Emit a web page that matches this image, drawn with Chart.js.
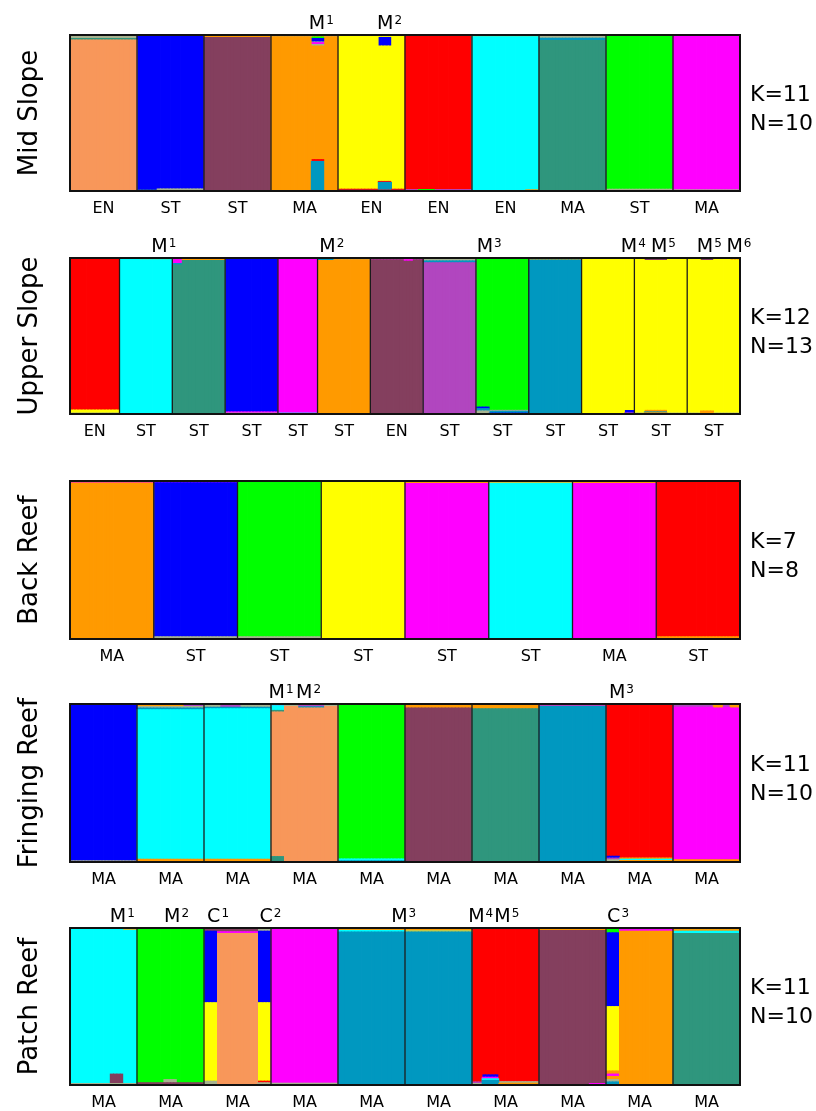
<!DOCTYPE html>
<html>
<head>
<meta charset="utf-8">
<script src="https://cdn.jsdelivr.net/npm/chart.js@4.4.0/dist/chart.umd.min.js"></script>
<style>
  body { margin: 0; background: #fff; }
  #wrap { position: relative; width: 816px; height: 1111px; }
  #wrap canvas { position: absolute; left: 0; }
</style>
</head>
<body>
<div id="wrap"></div>
<script>
// cluster colours
const COLORS = {
  sal: "#F8975A", blu: "#0000FE", mar: "#843F5E", ora: "#FF9A00",
  yel: "#FFFF00", red: "#FF0000", cya: "#00FFFF", tgr: "#2F967D",
  grn: "#00FF00", mag: "#FF00FF", tbl: "#0098C0", pur: "#B146BF",
  kha: "#A7B38F", olv: "#C3C94A",
};

// panel meta
const panelTitles = ["Mid Slope", "Upper Slope", "Back Reef", "Fringing Reef", "Patch Reef"];
const kValues = [11, 12, 7, 11, 11];
const nValues = [10, 13, 8, 10, 10];

// ---- Mid Slope ----
const midSlopeLabels = ["EN", "ST", "ST", "MA", "EN", "EN", "EN", "MA", "ST", "MA"];
const midSlopeWidths = [20, 20, 20, 20, 20, 20, 20, 20, 20, 20];
// memberships per colony, bottom -> top
const midSlopeBars = [
  [["sal", 0.968], ["tgr", 0.01], ["kha", 0.022]],
  [["tgr", 0.006], ["blu", 0.994]],
  [["mar", 0.985], ["ora", 0.015]],
  [["ora", 0.99], ["kha", 0.01]],
  [["mar", 0.006], ["red", 0.006], ["yel", 0.988]],
  [["pur", 0.01], ["red", 0.99]],
  [["cya", 0.99], ["olv", 0.01]],
  [["tgr", 0.965], ["tbl", 0.015], ["kha", 0.02]],
  [["kha", 0.012], ["grn", 0.988]],
  [["kha", 0.008], ["mag", 0.992]],
];
// [colony, firstCol, lastCol, memberships]
const midSlopePatches = [
  [1, 6, 19, [["kha", 0.014], ["blu", 0.986]]],
  [3, 12, 15, [["tbl", 0.19], ["red", 0.012], ["ora", 0.728], ["kha", 0.01], ["mag", 0.012], ["kha", 0.004], ["blu", 0.022], ["grn", 0.01], ["ora", 0.012]]],
  [4, 12, 15, [["red", 0.006], ["tbl", 0.05], ["red", 0.006], ["yel", 0.868], ["blu", 0.055], ["yel", 0.015]]],
  [5, 4, 8, [["grn", 0.01], ["red", 0.99]]],
  [6, 16, 19, [["ora", 0.008], ["cya", 0.982], ["olv", 0.01]]],
];
// [colony, position within colony, letter, superscript]
const midSlopeMarks = [[3, 0.75, "M", "1"], [4, 0.77, "M", "2"]];

// ---- Upper Slope ----
const upperSlopeLabels = ["EN", "ST", "ST", "ST", "ST", "ST", "EN", "ST", "ST", "ST", "ST", "ST", "ST"];
const upperSlopeWidths = [15, 16, 16, 16, 12, 16, 16, 16, 16, 16, 16, 16, 16];
const upperSlopeBars = [
  [["olv", 0.008], ["yel", 0.018], ["red", 0.974]],
  [["cya", 1]],
  [["tgr", 0.985], ["ora", 0.015]],
  [["kha", 0.006], ["mag", 0.008], ["blu", 0.986]],
  [["cya", 0.006], ["mag", 0.994]],
  [["ora", 0.99], ["kha", 0.01]],
  [["mar", 0.99], ["mag", 0.01]],
  [["pur", 0.97], ["tbl", 0.012], ["kha", 0.018]],
  [["blu", 0.006], ["tbl", 0.012], ["kha", 0.006], ["grn", 0.976]],
  [["tbl", 0.988], ["ora", 0.012]],
  [["yel", 0.995], ["mar", 0.005]],
  [["kha", 0.006], ["yel", 0.994]],
  [["kha", 0.006], ["yel", 0.994]],
];
const upperSlopePatches = [
  [1, 6, 15, [["cya", 0.99], ["olv", 0.01]]],
  [2, 0, 2, [["tgr", 0.955], ["tbl", 0.01], ["mag", 0.025], ["pur", 0.01]]],
  [5, 0, 4, [["ora", 0.985], ["tbl", 0.015]]],
  [6, 10, 12, [["mar", 0.98], ["mag", 0.01], ["sal", 0.01]]],
  [8, 0, 3, [["kha", 0.02], ["tbl", 0.015], ["blu", 0.01], ["grn", 0.955]]],
  [10, 13, 15, [["pur", 0.008], ["blu", 0.015], ["yel", 0.977]]],
  [11, 3, 9, [["ora", 0.008], ["tbl", 0.006], ["ora", 0.01], ["yel", 0.961], ["mar", 0.015]]],
  [12, 4, 7, [["ora", 0.02], ["yel", 0.965], ["mar", 0.015]]],
  [12, 13, 15, [["kha", 0.006], ["yel", 0.984], ["red", 0.01]]],
];
const upperSlopeMarks = [
  [1, 0.84, "M", "1"], [5, 0.27, "M", "2"], [8, 0.25, "M", "3"],
  [10, 0.98, "M", "4"], [11, 0.55, "M", "5"], [12, 0.42, "M", "5"], [12, 0.98, "M", "6"],
];

// ---- Back Reef ----
const backReefLabels = ["MA", "ST", "ST", "ST", "ST", "ST", "MA", "ST"];
const backReefWidths = [25, 25, 25, 25, 25, 25, 25, 25];
const backReefBars = [
  [["ora", 0.988], ["mag", 0.012]],
  [["kha", 0.015], ["blu", 0.975], ["mag", 0.01]],
  [["kha", 0.015], ["grn", 0.985]],
  [["yel", 1]],
  [["mag", 0.985], ["ora", 0.015]],
  [["cya", 0.985], ["olv", 0.015]],
  [["mag", 0.985], ["ora", 0.015]],
  [["ora", 0.015], ["red", 0.985]],
];
const backReefPatches = [];
const backReefMarks = [];

// ---- Fringing Reef ----
const fringingLabels = ["MA", "MA", "MA", "MA", "MA", "MA", "MA", "MA", "MA", "MA"];
const fringingWidths = [20, 20, 20, 20, 20, 20, 20, 20, 20, 20];
const fringingBars = [
  [["kha", 0.008], ["blu", 0.984], ["pur", 0.008]],
  [["ora", 0.018], ["cya", 0.947], ["tbl", 0.01], ["kha", 0.01], ["ora", 0.015]],
  [["ora", 0.018], ["cya", 0.952], ["tbl", 0.01], ["kha", 0.012], ["pur", 0.008]],
  [["sal", 0.985], ["kha", 0.015]],
  [["tbl", 0.008], ["cya", 0.012], ["grn", 0.98]],
  [["mar", 0.975], ["ora", 0.025]],
  [["tgr", 0.97], ["ora", 0.03]],
  [["tbl", 0.985], ["pur", 0.015]],
  [["ora", 0.01], ["cya", 0.008], ["ora", 0.008], ["red", 0.974]],
  [["ora", 0.015], ["mag", 0.965], ["pur", 0.02]],
];
const fringingPatches = [
  [1, 14, 19, [["ora", 0.018], ["cya", 0.947], ["tbl", 0.01], ["kha", 0.01], ["pur", 0.015]]],
  [2, 5, 10, [["ora", 0.018], ["cya", 0.952], ["tbl", 0.01], ["pur", 0.02]]],
  [3, 0, 3, [["tgr", 0.035], ["sal", 0.915], ["tgr", 0.01], ["cya", 0.03], ["mag", 0.01]]],
  [3, 8, 15, [["sal", 0.975], ["tbl", 0.008], ["pur", 0.017]]],
  [8, 0, 3, [["kha", 0.015], ["pur", 0.01], ["blu", 0.012], ["red", 0.963]]],
  [9, 12, 14, [["ora", 0.015], ["mag", 0.96], ["ora", 0.025]]],
  [9, 17, 19, [["ora", 0.015], ["mag", 0.96], ["ora", 0.025]]],
];
const fringingMarks = [[3, 0.15, "M", "1"], [3, 0.56, "M", "2"], [8, 0.23, "M", "3"]];

// ---- Patch Reef ----
const patchReefLabels = ["MA", "MA", "MA", "MA", "MA", "MA", "MA", "MA", "MA", "MA"];
const patchReefWidths = [20, 20, 20, 20, 20, 20, 20, 20, 20, 20];
const patchReefBars = [
  [["kha", 0.01], ["cya", 0.99]],
  [["mar", 0.015], ["grn", 0.985]],
  [["sal", 0.965], ["mag", 0.012], ["mar", 0.023]],
  [["kha", 0.012], ["mag", 0.988]],
  [["tbl", 0.975], ["cya", 0.01], ["ora", 0.015]],
  [["tbl", 0.975], ["olv", 0.01], ["ora", 0.015]],
  [["ora", 0.012], ["kha", 0.01], ["red", 0.978]],
  [["mar", 0.985], ["ora", 0.015]],
  [["ora", 0.98], ["mag", 0.01], ["pur", 0.01]],
  [["tgr", 0.965], ["cya", 0.015], ["ora", 0.01], ["olv", 0.01]],
];
const patchReefPatches = [
  [0, 0, 11, [["kha", 0.01], ["cya", 0.985], ["pur", 0.005]]],
  [0, 12, 15, [["kha", 0.01], ["mar", 0.06], ["cya", 0.93]]],
  [0, 16, 19, [["kha", 0.01], ["cya", 0.975], ["olv", 0.015]]],
  [1, 8, 11, [["mar", 0.015], ["kha", 0.02], ["grn", 0.965]]],
  [2, 0, 3, [["kha", 0.025], ["yel", 0.5], ["blu", 0.455], ["mar", 0.02]]],
  [2, 16, 19, [["kha", 0.015], ["red", 0.01], ["yel", 0.5], ["blu", 0.455], ["kha", 0.02]]],
  [6, 0, 2, [["kha", 0.01], ["pur", 0.01], ["red", 0.98]]],
  [6, 3, 7, [["tbl", 0.03], ["cya", 0.01], ["mag", 0.01], ["blu", 0.015], ["red", 0.935]]],
  [7, 15, 19, [["mag", 0.01], ["mar", 0.975], ["ora", 0.015]]],
  [8, 0, 3, [["tbl", 0.02], ["kha", 0.015], ["ora", 0.02], ["mag", 0.015], ["ora", 0.02], ["yel", 0.41], ["blu", 0.47], ["grn", 0.022], ["kha", 0.008]]],
];
const patchReefMarks = [
  [0, 0.78, "M", "1"], [1, 0.59, "M", "2"], [2, 0.21, "C", "1"], [2, 0.99, "C", "2"],
  [4, 0.98, "M", "3"], [6, 0.13, "M", "4"], [6, 0.52, "M", "5"], [8, 0.18, "C", "3"],
];

const panels = [
  { labels: midSlopeLabels, widths: midSlopeWidths, bars: midSlopeBars, patches: midSlopePatches, marks: midSlopeMarks },
  { labels: upperSlopeLabels, widths: upperSlopeWidths, bars: upperSlopeBars, patches: upperSlopePatches, marks: upperSlopeMarks },
  { labels: backReefLabels, widths: backReefWidths, bars: backReefBars, patches: backReefPatches, marks: backReefMarks },
  { labels: fringingLabels, widths: fringingWidths, bars: fringingBars, patches: fringingPatches, marks: fringingMarks },
  { labels: patchReefLabels, widths: patchReefWidths, bars: patchReefBars, patches: patchReefPatches, marks: patchReefMarks },
];

// layout (box top / height of each panel, px)
const boxTops = [35, 258, 481, 704, 928];
const boxHeights = [156, 156, 158, 158, 157];
const FONT = '"DejaVu Sans", Verdana, sans-serif';

function makeDecor(p, idx, starts) {
  return {
    id: "decor" + idx,
    afterDatasetsDraw(chart) {
      const { ctx, chartArea: a, scales: { x } } = chart;
      ctx.save();
      // colony separators
      ctx.strokeStyle = "#1c1c1c";
      ctx.lineWidth = 1.3;
      starts.slice(1).forEach((s) => {
        const px = x.getPixelForValue(s - 0.5);
        ctx.beginPath();
        ctx.moveTo(px, a.top);
        ctx.lineTo(px, a.bottom);
        ctx.stroke();
      });
      ctx.lineWidth = 2;
      ctx.strokeStyle = "#111";
      ctx.strokeRect(a.left, a.top, a.right - a.left, a.bottom - a.top);

      ctx.fillStyle = "#000";
      // colony labels under the bars
      ctx.font = "16px " + FONT;
      ctx.textAlign = "center";
      ctx.textBaseline = "middle";
      p.labels.forEach((lab, i) => {
        const cx = x.getPixelForValue(starts[i] + p.widths[i] / 2 - 0.5);
        ctx.fillText(lab, cx, a.bottom + 18);
      });

      // marks above (M1, C1 ...)
      ctx.textBaseline = "alphabetic";
      ctx.textAlign = "left";
      p.marks.forEach(([i, f, letter, sup]) => {
        const cx = x.getPixelForValue(starts[i] + f * p.widths[i] - 0.5);
        ctx.font = "19px " + FONT;
        const lw = ctx.measureText(letter).width;
        ctx.font = "12px " + FONT;
        const sw = ctx.measureText(sup).width;
        const x0 = cx - (lw + sw + 1) / 2;
        ctx.font = "19px " + FONT;
        ctx.fillText(letter, x0, a.top - 6);
        ctx.font = "12px " + FONT;
        ctx.fillText(sup, x0 + lw + 1, a.top - 11);
      });

      const mid = (a.top + a.bottom) / 2;
      // panel title
      ctx.save();
      ctx.translate(37, mid);
      ctx.rotate(-Math.PI / 2);
      ctx.font = "26px " + FONT;
      ctx.textAlign = "center";
      ctx.fillText(panelTitles[idx], 0, 0);
      ctx.restore();

      // K / N
      ctx.font = "22px " + FONT;
      ctx.textAlign = "left";
      ctx.textBaseline = "middle";
      ctx.fillText("K=" + kValues[idx], 750, mid - 18);
      ctx.fillText("N=" + nValues[idx], 750, mid + 11);
      ctx.restore();
    },
  };
}

panels.forEach((p, idx) => {
  // expand colonies into columns
  const cols = [];
  const starts = [];
  p.widths.forEach((w, i) => {
    starts.push(cols.length);
    for (let k = 0; k < w; k++) {
      let seg = p.bars[i];
      p.patches.forEach((pt) => {
        if (pt[0] === i && k >= pt[1] && k <= pt[2]) seg = pt[3];
      });
      cols.push(seg);
    }
  });
  const maxSeg = Math.max(...cols.map((s) => s.length));
  const datasets = [];
  for (let s = 0; s < maxSeg; s++) {
    datasets.push({
      data: cols.map((seg) => {
        if (!seg[s]) return null;
        const tot = seg.reduce((acc, v) => acc + v[1], 0);
        return seg[s][1] / tot;
      }),
      backgroundColor: cols.map((seg) => (seg[s] ? COLORS[seg[s][0]] : "rgba(0,0,0,0)")),
      borderWidth: 0,
      barPercentage: 1,
      categoryPercentage: 1,
      inflateAmount: 0.4,
    });
  }

  const h = 35 + boxHeights[idx] + 32;
  const canvas = document.createElement("canvas");
  canvas.width = 816;
  canvas.height = h;
  canvas.style.top = boxTops[idx] - 35 + "px";
  canvas.style.width = "816px";
  canvas.style.height = h + "px";
  document.getElementById("wrap").appendChild(canvas);

  new Chart(canvas, {
    type: "bar",
    data: { labels: cols.map((_, i) => String(i)), datasets },
    options: {
      responsive: false,
      animation: false,
      devicePixelRatio: 1,
      layout: { padding: { left: 70, right: 76, top: 35, bottom: 32 } },
      plugins: { legend: { display: false }, tooltip: { enabled: false } },
      scales: {
        x: { display: false, stacked: true, offset: true },
        y: { display: false, stacked: true, min: 0, max: 1 },
      },
    },
    plugins: [makeDecor(p, idx, starts)],
  });
});
</script>
</body>
</html>
